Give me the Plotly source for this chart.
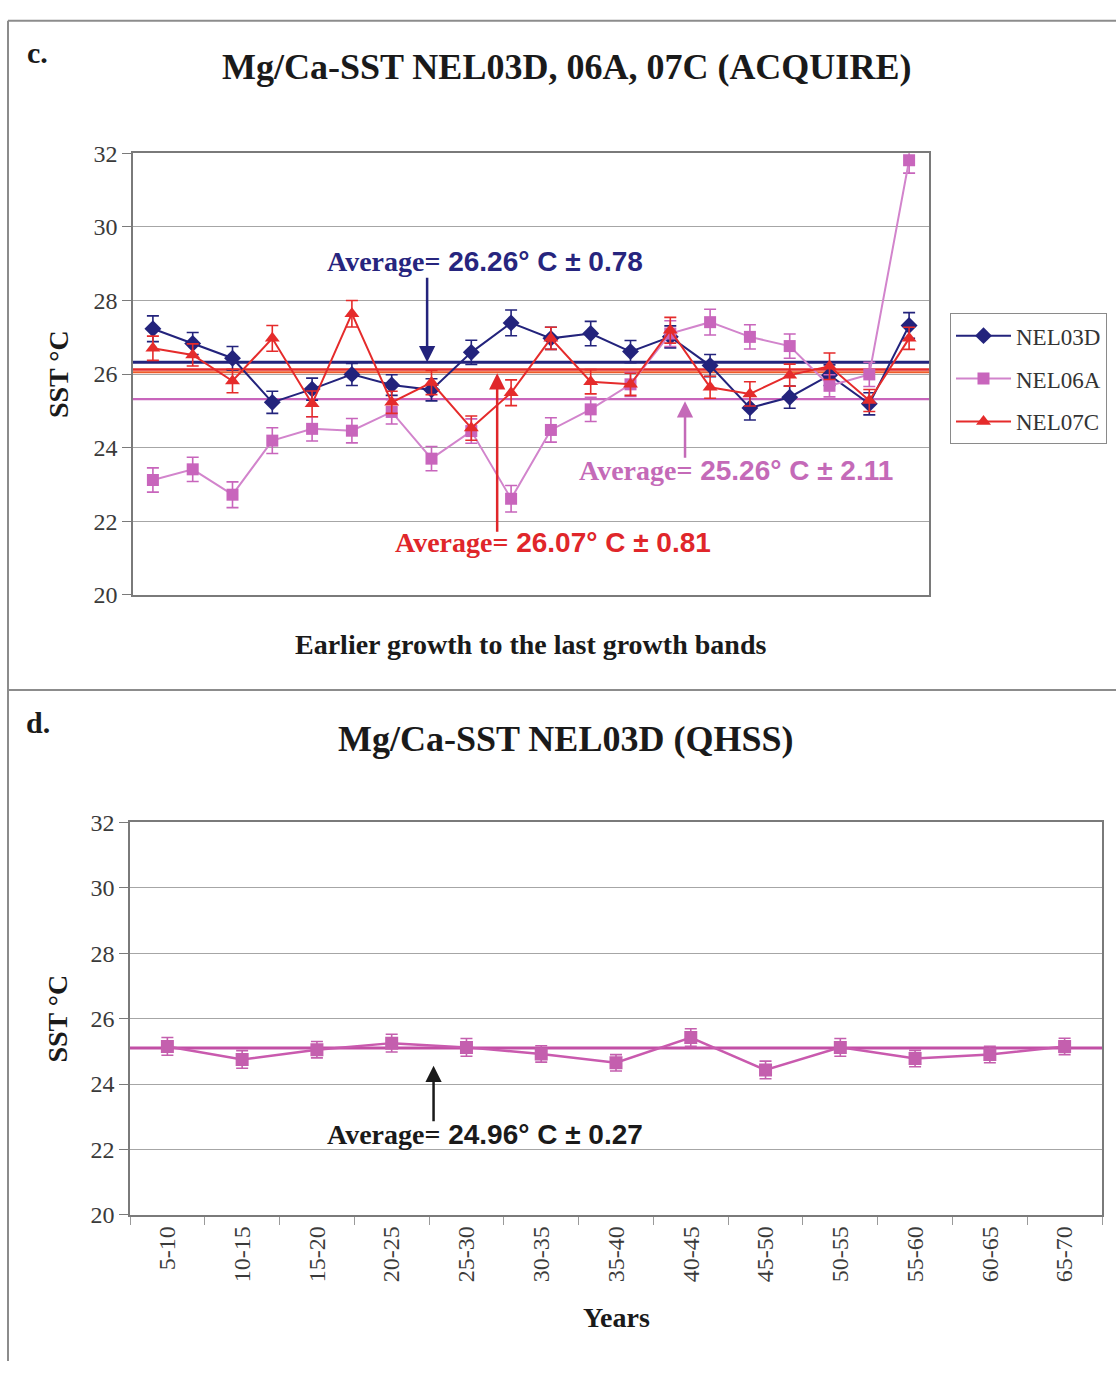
import plotly.graph_objects as go

W, H = 1116, 1374

# ---------------- data: panel c (ACQUIRE) ----------------
bands = list(range(1, 21))
nel03d = [27.23, 26.83, 26.43, 25.23, 25.59, 25.99, 25.70, 25.57, 26.59, 27.39,
          26.97, 27.10, 26.61, 27.01, 26.23, 25.08, 25.37, 25.97, 25.19, 27.32]
nel03d_err = [0.35, 0.30, 0.32, 0.30, 0.30, 0.30, 0.28, 0.30, 0.33, 0.35,
              0.30, 0.33, 0.30, 0.30, 0.30, 0.33, 0.30, 0.28, 0.30, 0.35]
nel06a = [23.12, 23.41, 22.72, 24.19, 24.51, 24.46, 24.97, 23.70, 24.45, 22.61,
          24.48, 25.04, 25.72, 27.10, 27.41, 27.01, 26.76, 25.68, 25.99, 31.81]
nel06a_err = [0.33, 0.33, 0.35, 0.35, 0.33, 0.33, 0.33, 0.33, 0.33, 0.36,
              0.33, 0.33, 0.33, 0.35, 0.35, 0.33, 0.33, 0.30, 0.33, 0.35]
nel07c = [26.70, 26.52, 25.81, 26.97, 25.19, 27.64, 25.23, 25.77, 24.53, 25.49,
          26.97, 25.79, 25.72, 27.19, 25.64, 25.46, 25.97, 26.21, 25.28, 26.97]
nel07c_err = [0.33, 0.30, 0.32, 0.35, 0.35, 0.36, 0.30, 0.33, 0.33, 0.35,
              0.30, 0.33, 0.30, 0.35, 0.30, 0.33, 0.30, 0.36, 0.30, 0.30]
avg_lines_c = {"NEL03D": [26.32], "NEL07C": [26.12, 26.05], "NEL06A": [25.32]}
avg_text_c = {"NEL03D": ("26.26", "0.78"), "NEL06A": ("25.26", "2.11"), "NEL07C": ("26.07", "0.81")}

# ---------------- data: panel d (QHSS) ----------------
years = ["5-10", "10-15", "15-20", "20-25", "25-30", "30-35", "35-40",
         "40-45", "45-50", "50-55", "55-60", "60-65", "65-70"]
qhss = [25.15, 24.75, 25.05, 25.25, 25.12, 24.92, 24.65, 25.42, 24.43, 25.12, 24.78, 24.90, 25.15]
qhss_err = [0.27, 0.27, 0.25, 0.27, 0.27, 0.25, 0.25, 0.27, 0.27, 0.27, 0.25, 0.25, 0.25]
avg_line_d = 25.10
avg_text_d = ("24.96", "0.27")

y_ticks = [20, 22, 24, 26, 28, 30, 32]

NAVY = "#23237c"
PINK = "#c865bc"
PINK_LINE = "#d284cc"
RED = "#e52b2b"
SERIF = "Liberation Serif"
SANS = "Liberation Sans"


def px(x):
    return x / W


def py(y):
    return 1 - y / H


fig = go.Figure()

series = [
    ("NEL03D", nel03d, nel03d_err, NAVY, NAVY, "diamond", 13),
    ("NEL06A", nel06a, nel06a_err, PINK_LINE, PINK, "square", 12),
    ("NEL07C", nel07c, nel07c_err, RED, RED, "triangle-up", 13),
]
for name, vals, err, lc, mc, sym, ms in series:
    fig.add_trace(go.Scatter(
        x=bands, y=vals, name=name, legendgroup=name, mode="lines+markers",
        line=dict(color=lc, width=2),
        marker=dict(color=mc, symbol=sym, size=ms),
        error_y=dict(type="data", array=err, color=mc, thickness=1.6, width=6),
        xaxis="x", yaxis="y",
    ))

fig.add_trace(go.Scatter(
    x=years, y=qhss, name="QHSS", mode="lines+markers", showlegend=False,
    line=dict(color="#c95aae", width=2.5),
    marker=dict(color="#c45fae", symbol="square", size=13),
    error_y=dict(type="data", array=qhss_err, color="#c45fae", thickness=1.6, width=6),
    xaxis="x2", yaxis="y2",
))

axis_font = dict(family=SERIF, size=24, color="#3a3a3a")
common_y = dict(range=[20, 32], tickvals=y_ticks, showgrid=True, gridcolor="#a6a6a6",
                gridwidth=1, showline=True, linecolor="#7a7a7a", linewidth=1.5, mirror=True,
                ticks="outside", ticklen=9, tickcolor="#7a7a7a", tickfont=axis_font,
                zeroline=False)

fig.update_layout(
    width=W, height=H, margin=dict(l=0, r=0, t=0, b=0),
    paper_bgcolor="white", plot_bgcolor="white",
    xaxis=dict(domain=[px(133), px(929)], range=[0.5, 20.5], anchor="y",
               showticklabels=False, showgrid=False, zeroline=False,
               showline=True, linecolor="#7a7a7a", linewidth=1.5, mirror=True),
    yaxis=dict(domain=[py(593), py(143)], anchor="x", **common_y),
    xaxis2=dict(domain=[px(130), px(1102)], anchor="y2", type="category",
                showgrid=False, zeroline=False, showline=True, linecolor="#7a7a7a",
                linewidth=1.5, mirror=True, ticks="outside", ticklen=8,
                tickcolor="#9a9a9a", tickson="boundaries", tickangle=-90,
                tickfont=axis_font, range=[-0.5, 12.5]),
    yaxis2=dict(domain=[py(1225), py(825)], anchor="x2", **common_y),
    legend=dict(x=px(950), y=py(306), xanchor="left", yanchor="top",
                bordercolor="#8a8a8a", borderwidth=1, bgcolor="white",
                font=dict(family=SERIF, size=23, color="#333333"),
                traceorder="grouped", tracegroupgap=10, itemwidth=55),
    showlegend=True,
)

shapes = []
# average lines, panel c
avg_styles = {"NEL03D": [(NAVY, 3)], "NEL07C": [(RED, 2.5), ("#ee5a2a", 2)], "NEL06A": [(PINK, 2.2)]}
for key, levels in avg_lines_c.items():
    for lvl, (col, wd) in zip(levels, avg_styles[key]):
        shapes.append(dict(type="line", xref="x", yref="y", x0=0.5, x1=20.5, y0=lvl, y1=lvl,
                           line=dict(color=col, width=wd), layer="below"))
shapes.append(dict(type="line", xref="x2", yref="y2", x0=-0.5, x1=12.5, y0=avg_line_d, y1=avg_line_d,
                   line=dict(color="#c24fa5", width=3), layer="below"))
# outer frame
frame = dict(color="#8c8c8c", width=2)
shapes.append(dict(type="line", xref="paper", yref="paper", x0=px(8), x1=px(8), y0=py(8), y1=0, line=frame))
shapes.append(dict(type="line", xref="paper", yref="paper", x0=px(8), x1=1, y0=py(8), y1=py(8), line=frame))
shapes.append(dict(type="line", xref="paper", yref="paper", x0=px(8), x1=1, y0=py(690), y1=py(690), line=frame))
fig.update_layout(shapes=shapes)


def avg_label(vals):
    return (f"<span style='font-family:{SERIF}'>Average=</span> {vals[0]}° C ± {vals[1]}")


def text_ann(text, cx, cy, font, angle=0):
    return dict(text=text, x=px(cx), y=py(cy), xref="paper", yref="paper", showarrow=False,
                xanchor="center", yanchor="middle", textangle=angle, font=font)


ann = []
title_font = dict(family=SERIF, size=36, color="#1a1a1a")
ann.append(text_ann("<b>c.</b>", 37, 40, dict(family=SERIF, size=30, color="#1a1a1a")))
ann.append(text_ann("<b>d.</b>", 38, 723, dict(family=SERIF, size=30, color="#1a1a1a")))
ann.append(text_ann("<b>Mg/Ca-SST NEL03D, 06A, 07C (ACQUIRE)</b>", 566, 55, title_font))
ann.append(text_ann("<b>Mg/Ca-SST NEL03D (QHSS)</b>", 565, 740, title_font))
lab_font = dict(family=SERIF, size=28, color="#1a1a1a")
ann.append(text_ann("<b>SST °C</b>", 58, 368, lab_font, -90))
ann.append(text_ann("<b>SST °C</b>", 58, 1025, lab_font, -90))
ann.append(text_ann("<b>Earlier growth to the last growth bands</b>", 530, 644, lab_font))
ann.append(text_ann("<b>Years</b>", 616, 1330, lab_font))

# average labels
for key, cx, cy, col in [("NEL03D", 485, 253, "#27257e"), ("NEL06A", 736, 466, "#c46ab8"),
                         ("NEL07C", 553, 540, "#e0262a")]:
    ann.append(text_ann("<b>" + avg_label(avg_text_c[key]) + "</b>", cx, cy,
                        dict(family=SANS, size=28, color=col)))
ann.append(text_ann("<b>" + avg_label(avg_text_d) + "</b>", 485, 1143,
                    dict(family=SANS, size=28, color="#1a1a1a")))

# arrows (tip at the average lines)
arrow_common = dict(text="", showarrow=True, arrowhead=2, arrowsize=1.3, arrowwidth=2.5, axref="pixel", ayref="pixel")
ann.append(dict(x=7.89, y=avg_lines_c["NEL03D"][0], xref="x", yref="y", ax=0, ay=-86,
                arrowcolor="#23237c", **arrow_common))
ann.append(dict(x=14.37, y=avg_lines_c["NEL06A"][0] - 0.06, xref="x", yref="y", ax=0, ay=58,
                arrowcolor="#c46ab8", **arrow_common))
ann.append(dict(x=9.65, y=avg_lines_c["NEL07C"][1] - 0.03, xref="x", yref="y", ax=0, ay=160,
                arrowcolor="#e0262a", **arrow_common))
ann.append(dict(x=3.56, y=24.56, xref="x2", yref="y2", ax=0, ay=57,
                arrowcolor="#1a1a1a", **arrow_common))
fig.update_layout(annotations=ann)

fig.write_html("out.html", config={"displayModeBar": False},
               post_script="document.body.style.margin='0';")
